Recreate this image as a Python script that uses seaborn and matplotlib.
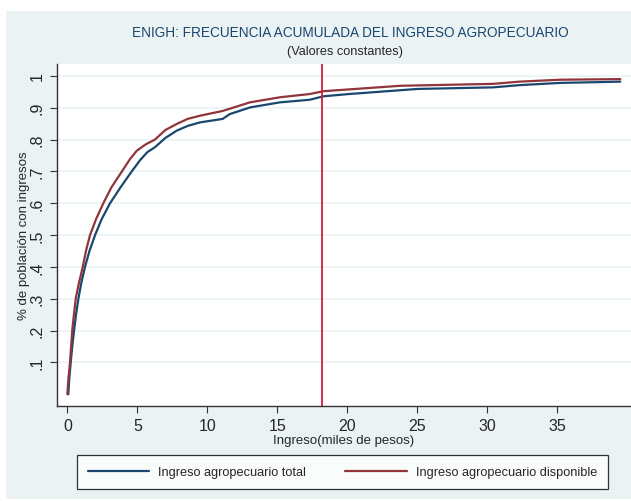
import matplotlib
matplotlib.use("Agg")
import matplotlib.pyplot as plt
from matplotlib.patches import Rectangle
import seaborn as sns
import pandas as pd

# valores (miles de pesos, frecuencia acumulada)
ingreso_total = [0.07, 0.14, 0.24, 0.35, 0.48, 0.62, 0.79, 1.0, 1.26, 1.58, 1.98, 2.45, 3.05,
                 3.8, 4.6, 5.19, 5.7, 6.26, 7.0, 7.81, 8.6, 9.48, 11.1, 11.6, 13.05, 15.2,
                 17.3, 18.3, 20.1, 25.0, 30.4, 32.3, 35.2, 39.5]
frec_total = [0.0, 0.05, 0.10, 0.15, 0.20, 0.25, 0.30, 0.35, 0.40, 0.45, 0.50, 0.55, 0.60,
              0.65, 0.70, 0.735, 0.76, 0.776, 0.805, 0.828, 0.843, 0.854, 0.865, 0.88, 0.901,
              0.917, 0.925, 0.936, 0.943, 0.959, 0.964, 0.971, 0.978, 0.982]

ingreso_disp = [0.0, 0.08, 0.19, 0.27, 0.36, 0.47, 0.60, 0.83, 1.10, 1.33, 1.62, 2.05, 2.57,
                3.15, 3.90, 4.48, 4.96, 5.6, 6.26, 7.0, 7.81, 8.6, 9.48, 11.1, 13.05, 15.2,
                17.3, 18.3, 23.8, 30.4, 32.3, 35.2, 39.5]
frec_disp = [0.0, 0.05, 0.10, 0.15, 0.205, 0.25, 0.30, 0.35, 0.40, 0.45, 0.50, 0.55, 0.60,
             0.65, 0.70, 0.739, 0.765, 0.785, 0.80, 0.83, 0.849, 0.865, 0.875, 0.89, 0.917,
             0.933, 0.943, 0.952, 0.969, 0.975, 0.982, 0.988, 0.990]

series = ["Ingreso agropecuario total", "Ingreso agropecuario disponible"]
corte = 18.2
yticks = [0.1, 0.2, 0.3, 0.4, 0.5, 0.6, 0.7, 0.8, 0.9, 1.0]
ylabels = [".1", ".2", ".3", ".4", ".5", ".6", ".7", ".8", ".9", "1"]
xticks = [0, 5, 10, 15, 20, 25, 30, 35]

df = pd.concat([
    pd.DataFrame({"ingreso": ingreso_total, "frec": frec_total, "serie": series[0]}),
    pd.DataFrame({"ingreso": ingreso_disp, "frec": frec_disp, "serie": series[1]}),
])

sns.set_theme(style="ticks")
plt.rcParams["font.family"] = ["Liberation Sans", "DejaVu Sans"]

fig = plt.figure(figsize=(6.31, 5.02), dpi=100, facecolor="white")
fig.patches.append(Rectangle((6 / 631, 2 / 502), 625 / 631, 488 / 502, transform=fig.transFigure,
                             facecolor="#eaf2f3", edgecolor="none", zorder=-10))
ax = fig.add_axes([56.7 / 631, (502 - 406.7) / 502, 1 - 56.7 / 631, (406.7 - 65) / 502])
ax.set_facecolor("white")

pal = {series[0]: "#1a476f", series[1]: "#90353b"}
sns.lineplot(data=df, x="ingreso", y="frec", hue="serie", palette=pal, sort=False,
             estimator=None, linewidth=1.6, ax=ax)
ax.axvline(corte, color="#d7193f", linewidth=1.3)

ax.set_xlim(-0.76, 40.26)
ax.set_ylim(-0.036, 1.0374)
ax.set_xticks(xticks)
ax.set_yticks(yticks)
ax.set_yticklabels(ylabels, rotation=90, va="center")
ax.tick_params(axis="both", labelsize=11.5, length=5, width=0.8, color="#333333")
ax.tick_params(axis="x", pad=4)
ax.yaxis.grid(True, color="#eaf2f3", linewidth=1.2)
ax.set_axisbelow(True)
for s in ["top", "right"]:
    ax.spines[s].set_visible(False)
for s in ["left", "bottom"]:
    ax.spines[s].set_color("#333333")
    ax.spines[s].set_linewidth(1.0)

ax.set_xlabel("Ingreso(miles de pesos)", fontsize=9.5, labelpad=0.5)
ax.set_ylabel("% de población con ingresos", fontsize=9.5, labelpad=0)

fig.text(350 / 631, 1 - 33 / 502, "ENIGH: FRECUENCIA ACUMULADA DEL INGRESO AGROPECUARIO",
         ha="center", va="center", fontsize=9.8, color="#1a476f")
fig.text(345 / 631, 1 - 52 / 502, "(Valores constantes)", ha="center", va="center", fontsize=9.2)

handles, labels = ax.get_legend_handles_labels()
ax.legend_.remove()
leg = fig.legend(handles, labels, loc="lower left", ncol=2, mode="expand",
                 bbox_to_anchor=(77 / 631, 12 / 502, 531 / 631, 35 / 502),
                 fontsize=9.2, handlelength=4.8, fancybox=False, frameon=True,
                 borderaxespad=0, borderpad=0.85, handletextpad=0.7)
leg.get_frame().set_edgecolor("black")
leg.get_frame().set_linewidth(0.9)

fig.savefig("out.png", dpi=100, facecolor="white")
